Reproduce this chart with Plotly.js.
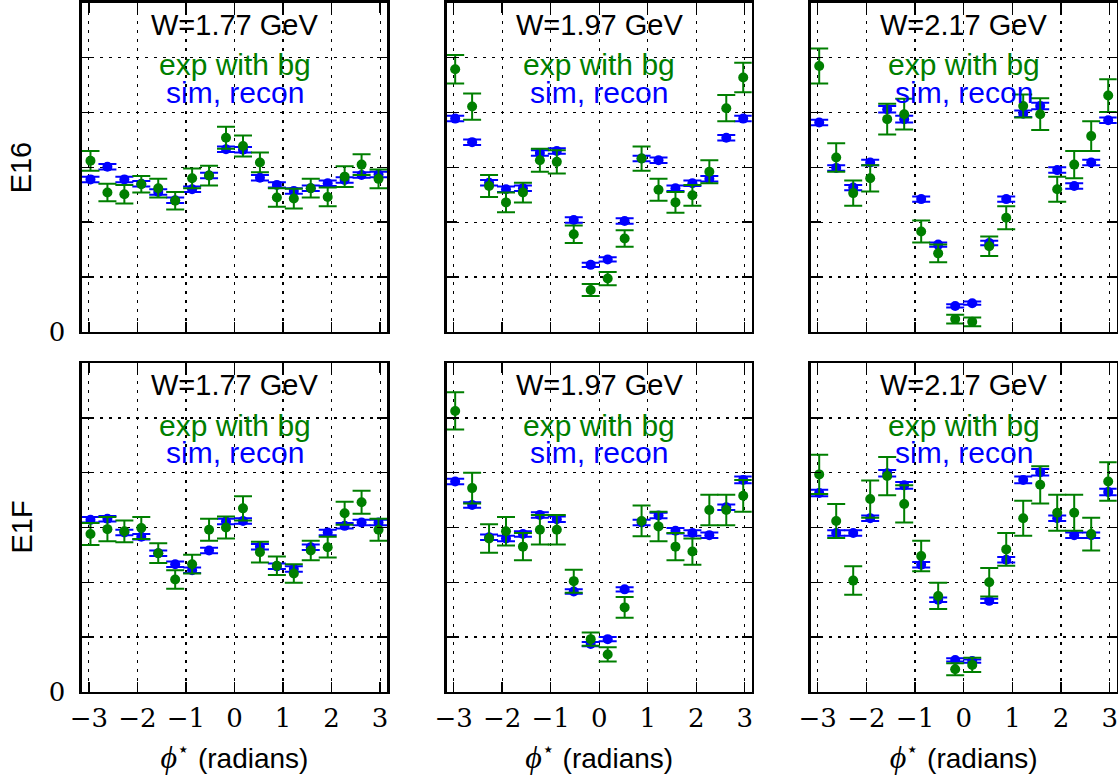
<!DOCTYPE html>
<html>
<head>
<meta charset="utf-8">
<script src="https://cdn.plot.ly/plotly-3.0.1.min.js"></script>
<style>
  html, body { margin: 0; padding: 0; background: #ffffff; }
  #chart { width: 1118px; height: 784px; }
</style>
</head>
<body>
<div id="chart"></div>
<script>
// phi* bin centres (radians), 18 bins over [-pi, pi]
const phiBins = [-2.967, -2.618, -2.269, -1.920, -1.571, -1.222, -0.873, -0.524, -0.175,
                  0.175,  0.524,  0.873,  1.222,  1.571,  1.920,  2.269,  2.618,  2.967];

const energyLabels = ['W=1.77 GeV', 'W=1.97 GeV', 'W=2.17 GeV'];
const runLabels = ['E16', 'E1F'];
const seriesLabels = ['exp with bg', 'sim, recon'];
const xTickVals = [-3, -2, -1, 0, 1, 2, 3];
const yTickVals = [0, 1, 2, 3, 4, 5, 6];
const yTickText = ['0', '', '', '', '', '', ''];

// E16, W = 1.77 GeV
const expE16W177    = [3.12, 2.54, 2.51, 2.69, 2.62, 2.39, 2.80, 2.85, 3.54, 3.39, 3.09, 2.45, 2.43, 2.62, 2.46, 2.83, 3.05, 2.79];
const expErrE16W177 = [0.18, 0.16, 0.17, 0.15, 0.17, 0.16, 0.18, 0.18, 0.20, 0.19, 0.18, 0.17, 0.18, 0.17, 0.17, 0.19, 0.19, 0.17];
const simE16W177    = [2.78, 3.01, 2.78, 2.70, 2.55, 2.40, 2.60, 2.85, 3.33, 3.32, 2.81, 2.68, 2.57, 2.62, 2.71, 2.77, 2.86, 2.87];
const simErrE16W177 = [0.05, 0.05, 0.05, 0.05, 0.05, 0.05, 0.05, 0.05, 0.05, 0.05, 0.05, 0.05, 0.05, 0.05, 0.05, 0.05, 0.05, 0.05];

// E16, W = 1.97 GeV
const expE16W197    = [4.79, 4.11, 2.66, 2.36, 2.54, 3.13, 3.10, 1.78, 0.76, 0.97, 1.70, 3.16, 2.59, 2.36, 2.49, 2.92, 4.08, 4.64];
const expErrE16W197 = [0.26, 0.24, 0.20, 0.18, 0.18, 0.21, 0.21, 0.16, 0.11, 0.12, 0.15, 0.22, 0.20, 0.19, 0.19, 0.21, 0.24, 0.27];
const simE16W197    = [3.89, 3.46, 2.72, 2.60, 2.62, 3.26, 3.30, 2.04, 1.22, 1.32, 2.02, 3.16, 3.13, 2.62, 2.71, 2.79, 3.54, 3.89];
const simErrE16W197 = [0.05, 0.05, 0.05, 0.05, 0.05, 0.05, 0.05, 0.05, 0.04, 0.04, 0.05, 0.05, 0.05, 0.05, 0.05, 0.05, 0.05, 0.05];

// E16, W = 2.17 GeV
const expE16W217    = [4.85, 3.18, 2.53, 2.80, 3.88, 3.97, 1.83, 1.43, 0.23, 0.18, 1.56, 2.08, 4.12, 3.97, 2.60, 3.05, 3.57, 4.31];
const expErrE16W217 = [0.32, 0.26, 0.23, 0.24, 0.28, 0.28, 0.20, 0.16, 0.08, 0.08, 0.18, 0.21, 0.21, 0.29, 0.23, 0.25, 0.27, 0.30];
const simE16W217    = [3.82, 2.99, 2.63, 3.09, 4.06, 3.88, 2.42, 1.59, 0.47, 0.52, 1.62, 2.42, 3.98, 4.12, 2.95, 2.66, 3.09, 3.86];
const simErrE16W217 = [0.05, 0.05, 0.05, 0.05, 0.06, 0.06, 0.05, 0.04, 0.03, 0.03, 0.04, 0.05, 0.06, 0.06, 0.05, 0.05, 0.05, 0.05];

// E1F, W = 1.77 GeV
const expE1FW177    = [2.88, 2.97, 2.93, 2.99, 2.53, 2.05, 2.33, 2.96, 3.00, 3.35, 2.55, 2.30, 2.16, 2.58, 2.64, 3.26, 3.46, 2.96];
const expErrE1FW177 = [0.20, 0.22, 0.20, 0.20, 0.18, 0.17, 0.17, 0.20, 0.20, 0.22, 0.19, 0.17, 0.17, 0.18, 0.19, 0.21, 0.21, 0.20];
const simE1FW177    = [3.14, 3.16, 2.91, 2.83, 2.53, 2.33, 2.22, 2.58, 3.11, 3.12, 2.65, 2.29, 2.24, 2.64, 2.91, 3.03, 3.09, 3.09];
const simErrE1FW177 = [0.05, 0.05, 0.05, 0.05, 0.05, 0.05, 0.05, 0.05, 0.05, 0.05, 0.05, 0.05, 0.05, 0.05, 0.05, 0.05, 0.05, 0.05];

// E1F, W = 1.97 GeV
const expE1FW197    = [5.13, 3.72, 2.80, 2.93, 2.65, 2.96, 2.96, 2.02, 0.96, 0.68, 1.54, 3.12, 3.02, 2.65, 2.56, 3.32, 3.32, 3.58];
const expErrE1FW197 = [0.34, 0.28, 0.26, 0.26, 0.25, 0.27, 0.27, 0.21, 0.12, 0.13, 0.19, 0.28, 0.27, 0.25, 0.24, 0.28, 0.28, 0.29];
const simE1FW197    = [3.84, 3.41, 2.82, 2.80, 2.88, 3.23, 3.15, 1.83, 0.87, 0.96, 1.87, 3.09, 3.22, 2.94, 2.90, 2.86, 3.37, 3.87];
const simErrE1FW197 = [0.05, 0.05, 0.05, 0.05, 0.05, 0.05, 0.05, 0.04, 0.04, 0.04, 0.04, 0.05, 0.05, 0.05, 0.05, 0.05, 0.05, 0.06];

// E1F, W = 2.17 GeV
const expE1FW217    = [3.97, 3.12, 2.03, 3.52, 3.94, 3.43, 2.48, 1.75, 0.41, 0.49, 2.00, 2.60, 3.17, 3.78, 3.27, 3.27, 2.88, 3.84];
const expErrE1FW217 = [0.36, 0.31, 0.26, 0.34, 0.35, 0.34, 0.28, 0.24, 0.11, 0.13, 0.26, 0.30, 0.32, 0.34, 0.33, 0.33, 0.30, 0.35];
const simE1FW217    = [3.63, 2.90, 2.90, 3.17, 3.99, 3.77, 2.32, 1.68, 0.58, 0.56, 1.66, 2.41, 3.87, 4.01, 3.17, 2.86, 2.86, 3.65];
const simErrE1FW217 = [0.06, 0.05, 0.05, 0.05, 0.06, 0.06, 0.05, 0.04, 0.03, 0.03, 0.04, 0.05, 0.06, 0.06, 0.05, 0.05, 0.05, 0.06];

const panels = [
  { row: 0, col: 0, exp: expE16W177, expErr: expErrE16W177, sim: simE16W177, simErr: simErrE16W177 },
  { row: 0, col: 1, exp: expE16W197, expErr: expErrE16W197, sim: simE16W197, simErr: simErrE16W197 },
  { row: 0, col: 2, exp: expE16W217, expErr: expErrE16W217, sim: simE16W217, simErr: simErrE16W217 },
  { row: 1, col: 0, exp: expE1FW177, expErr: expErrE1FW177, sim: simE1FW177, simErr: simErrE1FW177 },
  { row: 1, col: 1, exp: expE1FW197, expErr: expErrE1FW197, sim: simE1FW197, simErr: simErrE1FW197 },
  { row: 1, col: 2, exp: expE1FW217, expErr: expErrE1FW217, sim: simE1FW217, simErr: simErrE1FW217 }
];

// ---- page geometry (pixels) ----
const W = 1118, H = 784;
const colPx = [[82, 387], [446.7, 751.7], [810.7, 1116.7]];
const rowPx = [[3, 331.7], [363.3, 691.7]];

const GREEN = '#007f00';
const BLUE = '#0000ff';
const SANS = 'Liberation Sans, Arial, sans-serif';
const TICKFONT = 'DejaVu Serif, serif';

const xTitleText = '<span style="font-family:Liberation Serif;font-style:italic;font-size:32px">ϕ</span>' +
                   '<sup>⋆</sup> (radians)';

const traces = [];
const layout = {
  width: W, height: H,
  margin: { l: 0, r: 0, t: 0, b: 0, pad: 0 },
  paper_bgcolor: '#ffffff',
  plot_bgcolor: '#ffffff',
  showlegend: false,
  annotations: []
};

panels.forEach((p, i) => {
  const n = i + 1;
  const xa = 'x' + (n === 1 ? '' : n);
  const ya = 'y' + (n === 1 ? '' : n);
  const xKey = 'xaxis' + (n === 1 ? '' : n);
  const yKey = 'yaxis' + (n === 1 ? '' : n);
  const [l, r] = colPx[p.col];
  const [t, b] = rowPx[p.row];

  // simulation first, data drawn on top
  traces.push({
    type: 'scatter', mode: 'markers', xaxis: xa, yaxis: ya,
    name: seriesLabels[1], x: phiBins, y: p.sim,
    marker: { color: BLUE, size: 10, line: { width: 0 } },
    error_y: { type: 'data', array: p.simErr, visible: true, color: BLUE, thickness: 2, width: 9 },
    hoverinfo: 'skip'
  });
  traces.push({
    type: 'scatter', mode: 'markers', xaxis: xa, yaxis: ya,
    name: seriesLabels[0], x: phiBins, y: p.exp,
    marker: { color: GREEN, size: 10, line: { width: 0 } },
    error_y: { type: 'data', array: p.expErr, visible: true, color: GREEN, thickness: 2, width: 9 },
    hoverinfo: 'skip'
  });

  const common = {
    ticks: 'inside', ticklen: 10, tickwidth: 1.3, tickcolor: '#000',
    showline: true, linewidth: 2.6, linecolor: '#000', mirror: 'ticks',
    showgrid: true, gridcolor: '#000', gridwidth: 1.2, griddash: '3px,6px',
    zeroline: false, fixedrange: true, ticklabeloverflow: 'allow'
  };

  layout[xKey] = Object.assign({}, common, {
    domain: [l / W, r / W], anchor: ya,
    range: [-Math.PI, Math.PI],
    tickmode: 'array', tickvals: xTickVals,
    showticklabels: p.row === 1,
    tickfont: { family: TICKFONT, size: 26, color: '#000' },
    ticklabelstandoff: 1,
    title: p.row === 1 ? {
      text: xTitleText,
      font: { family: SANS, size: 28, color: '#000' },
      standoff: 17
    } : { text: '' }
  });

  layout[yKey] = Object.assign({}, common, {
    domain: [(H - b) / H, (H - t) / H], anchor: xa,
    range: [0, 6],
    tickmode: 'array', tickvals: yTickVals, ticktext: yTickText,
    showticklabels: p.col === 0,
    tickfont: { family: TICKFONT, size: 26, color: '#000' },
    ticklabelstandoff: 9
  });

  const xd = xa + ' domain', yd = ya + ' domain';
  layout.annotations.push(
    { text: energyLabels[p.col], xref: xd, yref: yd, x: 0.5, y: 0.9325, xanchor: 'center', yanchor: 'middle',
      showarrow: false, font: { family: SANS, size: 29, color: '#000' } },
    { text: seriesLabels[0], xref: xd, yref: yd, x: 0.5, y: 0.812, xanchor: 'center', yanchor: 'middle',
      showarrow: false, font: { family: SANS, size: 30, color: GREEN } },
    { text: seriesLabels[1], xref: xd, yref: yd, x: 0.5, y: 0.727, xanchor: 'center', yanchor: 'middle',
      showarrow: false, font: { family: SANS, size: 30, color: BLUE } }
  );
});

// run labels on the left of each row
runLabels.forEach((lab, r) => {
  const [t, b] = rowPx[r];
  layout.annotations.push({
    text: lab, xref: 'paper', yref: 'paper',
    x: 21 / W, y: 1 - ((t + b) / 2) / H,
    xanchor: 'center', yanchor: 'middle', textangle: -90,
    showarrow: false, font: { family: SANS, size: 29, color: '#000' }
  });
});

Plotly.newPlot('chart', traces, layout, { staticPlot: true, displayModeBar: false });
</script>
</body>
</html>
